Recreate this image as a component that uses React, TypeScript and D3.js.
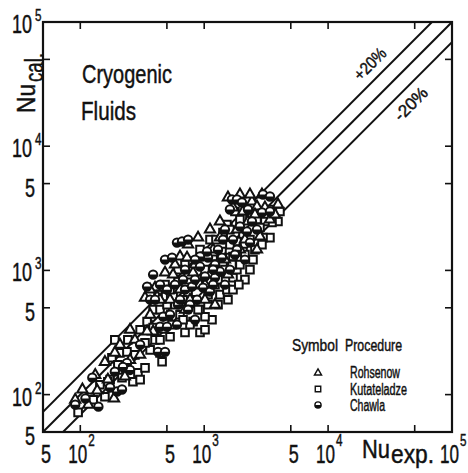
import React from 'react';
import * as d3 from 'd3';

// ---- data (Nu_exp, Nu_cal) ----
const rohsenow: [number, number][] = [
  [104,110],[137,108],[187,93],[158,183],[190,217],[252,190],[229,140],[387,322],[466,333],[346,322],
  [333,603],[401,727],[416,615],[483,960],[561,925],[638,1293],[727,1268],[813,960],[1179,1391],[1340,1837],
  [1707,3209],[2056,2982],[2429,3590],[2666,3271],[3092,3209],[3939,3393],[1340,2476],[1837,2132],[2818,1873],[1179,1470],
  [2666,1470],[1555,3865],[1943,4086],[2340,4086],[530,581],[700,483],[925,768],[1015,581],[276,276],[209,252],
  [304,209],[132,144],[91,91],[116,83],[366,440],[501,424],[843,1114],[1114,925],[1470,1222],[1943,1470],
  [2256,2476],[3393,2568],[2925,4086],[638,700],[440,581],[252,333],[167,132],[581,1114],[1015,768],[1555,925],
  [768,581],[1222,530],[2132,1770],[366,700],[741,1613],[892,1837],[1114,2132],[2568,2818],[3723,2818]
];
const kutateladze: [number, number][] = [
  [96,72],[120,95],[158,96],[174,132],[127,91],[180,198],[209,217],[238,221],[276,209],[167,127],
  [217,137],[292,150],[333,164],[266,127],[352,366],[457,184],[366,229],[333,261],[401,276],[530,292],
  [440,217],[387,483],[483,483],[466,615],[561,615],[741,638],[925,483],[1156,401],[925,316],[700,316],
  [346,387],[387,346],[440,276],[550,366],[638,440],[813,387],[1340,638],[1526,700],[1707,875],[1418,1114],
  [1613,1268],[1837,1015],[1418,1873],[1555,2256],[3939,2476],[3522,2429],[3092,2476],[2666,2568],[1526,2340],[1943,2568],
  [2340,2666],[3393,1837],[2982,1837],[2056,1943],[1613,2132],[1418,2017],[2340,1770],[1837,1707],[2568,1470],[2056,1418],
  [2476,1222],[1707,1293],[1391,1418],[1179,1293],[144,120],[201,174],[242,276],[304,333],[581,530],[768,843],
  [1015,1015],[1222,768],[1943,1114],[2132,843],[2340,1015],[1114,1770],[925,1470],[700,1114],[615,813],[483,768],
  [843,581],[675,581],[1015,424],[1293,530],[1613,1613],[2818,2215],[1770,2982],[1245,1770],[3393,3092],[4086,2982],
  [304,132],[190,276],[615,1015],[741,925],[892,768],[1074,638],[1293,843],[1470,1015],[1707,700],[530,700],
  [440,483],[768,366],[1015,333],[424,638],[501,530],[675,401],[892,483],[1074,530],[1555,581],[1904,768],
  [2132,1340],[2925,1613],[1674,1114]
];
const chawla: [number, number][] = [
  [125,137],[110,93],[140,80],[198,106],[217,110],[238,180],[252,158],[190,153],[221,167],[424,221],
  [483,221],[440,352],[501,352],[603,1674],[662,1707],[741,1770],[483,1222],[550,1268],[387,925],[346,741],
  [960,1293],[925,1074],[1074,1268],[581,768],[700,700],[797,741],[615,530],[768,530],[875,581],[466,424],
  [603,366],[979,727],[1114,675],[1222,875],[1015,892],[1340,979],[2982,4086],[3393,3939],[1674,3723],[1837,3723],
  [2017,3522],[1613,3092],[2256,3092],[2925,2925],[3393,2982],[1943,2256],[2666,2132],[1418,1770],[1707,1770],[2213,2056],
  [2340,1674],[1837,1470],[1054,1418],[925,1293],[843,1222],[304,252],[174,114],[91,83],[700,1015],[1222,1114],
  [1470,768],[843,401],[440,768],[1613,1015],[675,843],[843,843],[1179,1015],[1391,1268],[530,440],[638,581],
  [1770,1340],[2132,1222],[366,581],[401,581],[501,700],[1179,768],[1293,1470],[1470,2132],[2429,2476],[741,483]
];

const axisDomain = [50, 1e5];
const tickValues = [100, 500, 1000, 5000, 10000, 50000];
const bandFactor = 1.45;
const xTickLabels: { v: number; base: string; sup?: string }[] = [
  { v: 50, base: '5' }, { v: 100, base: '10', sup: '2' }, { v: 500, base: '5' },
  { v: 1000, base: '10', sup: '3' }, { v: 5000, base: '5' }, { v: 10000, base: '10', sup: '4' },
  { v: 100000, base: '10', sup: '5' },
];
const yTickLabels: { v: number; base: string; sup?: string }[] = [
  { v: 50, base: '5' }, { v: 100, base: '10', sup: '2' }, { v: 500, base: '5' },
  { v: 1000, base: '10', sup: '3' }, { v: 5000, base: '5' }, { v: 10000, base: '10', sup: '4' },
  { v: 100000, base: '10', sup: '5' },
];
const legendNames = ['Rohsenow', 'Kutateladze', 'Chawla'];

const FONT = 'Liberation Sans, Arial, sans-serif';
const INK = '#111';

function T(props: { x: number; y: number; size: number; w: number; anchor?: string; children: React.ReactNode; transform?: string }) {
  const { x, y, size, w, anchor = 'start', children, transform } = props;
  return (
    <text x={x} y={y} fontSize={size} textLength={w} lengthAdjust="spacingAndGlyphs"
      textAnchor={anchor} fontFamily={FONT} fill={INK} stroke={INK} strokeWidth={0.45}
      transform={transform}>{children}</text>
  );
}

export default function App() {
  const L = 43, R = 452, TOP = 22, B = 432;
  const x = d3.scaleLog().domain(axisDomain).range([L, R]);
  const y = d3.scaleLog().domain(axisDomain).range([B, TOP]);
  const tri = d3.symbol().type(d3.symbolTriangle).size(46)() as string;
  const sq = d3.symbol().type(d3.symbolSquare).size(58)() as string;
  const triL = d3.symbol().type(d3.symbolTriangle).size(22)() as string;
  const sqL = d3.symbol().type(d3.symbolSquare).size(30)() as string;
  const r = 4.2;
  const half = (rad: number) => d3.arc()({ innerRadius: 0, outerRadius: rad, startAngle: Math.PI / 2, endAngle: 3 * Math.PI / 2 } as any) as string;
  const line = d3.line<[number, number]>().x(d => x(d[0])).y(d => y(d[1]));
  const bands = [1, bandFactor, 1 / bandFactor];

  const Circle = ({ cx, cy, rad, sw }: { cx: number; cy: number; rad: number; sw: number }) => (
    <g transform={`translate(${cx},${cy})`}>
      <circle r={rad} fill="#fff" stroke={INK} strokeWidth={sw} />
      <path d={half(rad)} fill={INK} />
    </g>
  );

  return (
    <svg width={468} height={473} style={{ position: 'absolute', left: 0, top: 0, background: '#fff' }}>
      <defs>
        <clipPath id="plot"><rect x={L} y={TOP} width={R - L} height={B - TOP} /></clipPath>
      </defs>
      <rect width={468} height={473} fill="#fff" />
      {/* band lines */}
      <g clipPath="url(#plot)">
        {bands.map((f, i) => (
          <path key={i} d={line([[axisDomain[0] / 2, axisDomain[0] / 2 * f], [axisDomain[1] * 2, axisDomain[1] * 2 * f]]) as string}
            fill="none" stroke={INK} strokeWidth={2} />
        ))}
      </g>
      {/* points */}
      <g>
        {kutateladze.map((d, i) => (
          <path key={'k' + i} d={sq} transform={`translate(${x(d[0])},${y(d[1])})`} fill="#fff" stroke={INK} strokeWidth={2} />
        ))}
        {rohsenow.map((d, i) => (
          <path key={'r' + i} d={tri} transform={`translate(${x(d[0])},${y(d[1])})`} fill="#fff" stroke={INK} strokeWidth={2} />
        ))}
        {chawla.map((d, i) => (
          <Circle key={'c' + i} cx={x(d[0])} cy={y(d[1])} rad={r} sw={2} />
        ))}
      </g>
      {/* frame */}
      <rect x={L} y={TOP} width={R - L} height={B - TOP} fill="none" stroke={INK} strokeWidth={2.2} />
      {tickValues.map(v => (
        <g key={'t' + v} stroke={INK} strokeWidth={1.6}>
          <line x1={x(v)} x2={x(v)} y1={B} y2={B - 7} />
          <line x1={x(v)} x2={x(v)} y1={TOP} y2={TOP + 7} />
          <line x1={L} x2={L + 7} y1={y(v)} y2={y(v)} />
          <line x1={R} x2={R - 7} y1={y(v)} y2={y(v)} />
        </g>
      ))}
      {/* x tick labels */}
      {xTickLabels.map(t => t.sup ? (
        <g key={'xl' + t.v}>
          <T x={x(t.v) - 12} y={463} size={25} w={19}>{t.base}</T>
          <T x={x(t.v) + 8} y={446} size={16} w={6.5}>{t.sup}</T>
        </g>
      ) : (
        <T key={'xl' + t.v} x={x(t.v) + 3} y={463} size={25} w={10} anchor="middle">{t.base}</T>
      ))}
      {/* y tick labels */}
      {yTickLabels.map(t => t.sup ? (
        <g key={'yl' + t.v}>
          <T x={12} y={y(t.v) + 11} size={25} w={20}>{t.base}</T>
          <T x={35} y={y(t.v) - 1} size={16} w={6.5}>{t.sup}</T>
        </g>
      ) : (
        <T key={'yl' + t.v} x={30} y={y(t.v) + 13} size={25} w={10} anchor="middle">{t.base}</T>
      ))}
      {/* axis titles */}
      <T x={362} y={458} size={25} w={28}>Nu</T>
      <T x={391} y={463} size={25} w={43}>exp.</T>
      <T x={0} y={0} size={26} w={29} transform="translate(35,113) rotate(-90)">Nu</T>
      <T x={0} y={0} size={26} w={29} transform="translate(43,82) rotate(-90)">cal.</T>
      {/* chart title */}
      <T x={82} y={83} size={26} w={90}>Cryogenic</T>
      <T x={81} y={120} size={26} w={55}>Fluids</T>
      {/* band labels */}
      <T x={0} y={0} size={17} w={38} anchor="middle" transform="translate(374,68) rotate(-45)">+20%</T>
      <T x={0} y={0} size={17} w={40} anchor="middle" transform="translate(415,108) rotate(-45)">-20%</T>
      {/* legend */}
      <T x={292} y={351} size={17} w={46}>Symbol</T>
      <T x={345} y={351} size={17} w={57}>Procedure</T>
      <path d={triL} transform="translate(318,373)" fill="#fff" stroke={INK} strokeWidth={1.4} />
      <path d={sqL} transform="translate(318,389)" fill="#fff" stroke={INK} strokeWidth={1.4} />
      <Circle cx={318} cy={405} rad={3.1} sw={1.4} />
      <T x={350} y={378} size={16} w={50}>{legendNames[0]}</T>
      <T x={350} y={395} size={16} w={57}>{legendNames[1]}</T>
      <T x={350} y={411} size={16} w={35}>{legendNames[2]}</T>
    </svg>
  );
}
